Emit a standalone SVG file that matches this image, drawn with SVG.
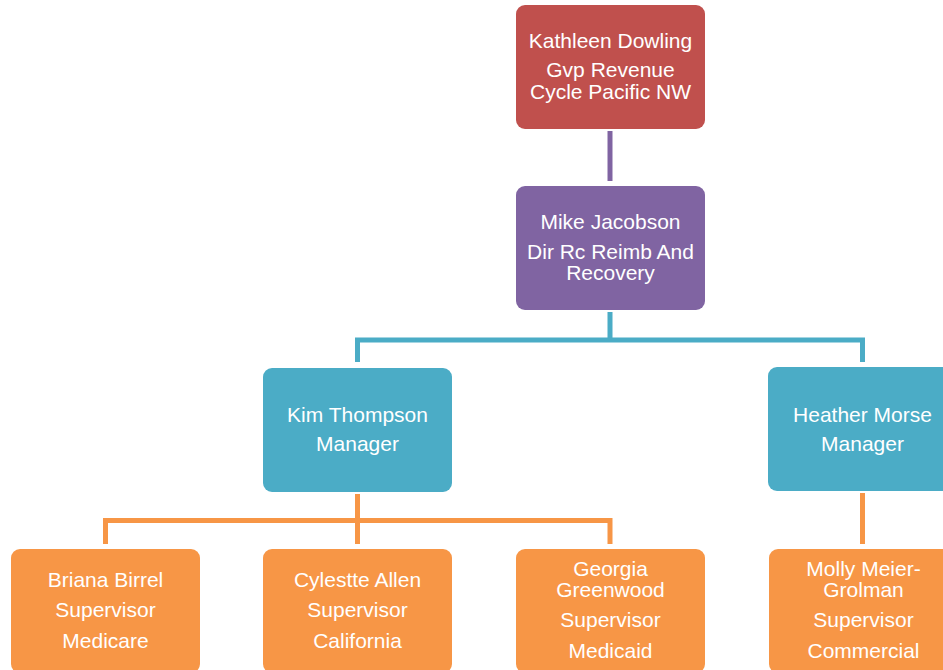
<svg xmlns="http://www.w3.org/2000/svg" width="943" height="670" viewBox="0 0 943 670">
<style>
text{font-family:'Liberation Sans',Arimo,Arial,Helvetica,sans-serif;font-size:21px;fill:#fff;text-anchor:middle}
.c{fill:none;stroke-width:5}
</style>
<rect width="943" height="670" fill="#fff"/>
<g id="connectors">
<path class="c" stroke="#8064A2" d="M610,131V181"/>
<path class="c" stroke="#4BACC6" d="M610,312V340H357.5V362M610,340H862.5V362"/>
<path class="c" stroke="#F79646" d="M357.5,494V520.5H105.5V544M357.5,520.5H610V544M357.5,520.5V544"/>
<path class="c" stroke="#F79646" d="M862.5,493V544"/>
</g>
<g id="kathleen"><rect x="516" y="5" width="189" height="124" rx="9" fill="#C0504D"/>
<text x="610.5" y="48">Kathleen Dowling</text><text x="610.5" y="77">Gvp Revenue</text><text x="610.5" y="99">Cycle Pacific NW</text></g>
<g id="mike"><rect x="516" y="186" width="189" height="124" rx="9" fill="#8064A2"/>
<text x="610.5" y="229">Mike Jacobson</text><text x="610.5" y="259">Dir Rc Reimb And</text><text x="610.5" y="280">Recovery</text></g>
<g id="kim"><rect x="263" y="368" width="189" height="124" rx="9" fill="#4BACC6"/>
<text x="357.5" y="422">Kim Thompson</text><text x="357.5" y="451">Manager</text></g>
<g id="heather"><rect x="768" y="367" width="189" height="124" rx="9" fill="#4BACC6"/>
<text x="862.5" y="422">Heather Morse</text><text x="862.5" y="451">Manager</text></g>
<g id="briana"><rect x="11" y="549" width="189" height="124" rx="9" fill="#F79646"/>
<text x="105.5" y="587">Briana Birrel</text><text x="105.5" y="617">Supervisor</text><text x="105.5" y="648">Medicare</text></g>
<g id="cylestte"><rect x="263" y="549" width="189" height="124" rx="9" fill="#F79646"/>
<text x="357.5" y="587">Cylestte Allen</text><text x="357.5" y="617">Supervisor</text><text x="357.5" y="648">California</text></g>
<g id="georgia"><rect x="516" y="549" width="189" height="124" rx="9" fill="#F79646"/>
<text x="610.5" y="576">Georgia</text><text x="610.5" y="597">Greenwood</text><text x="610.5" y="627">Supervisor</text><text x="610.5" y="658">Medicaid</text></g>
<g id="molly"><rect x="769" y="549" width="189" height="124" rx="9" fill="#F79646"/>
<text x="863.5" y="576">Molly Meier-</text><text x="863.5" y="597">Grolman</text><text x="863.5" y="627">Supervisor</text><text x="863.5" y="658">Commercial</text></g>
</svg>
